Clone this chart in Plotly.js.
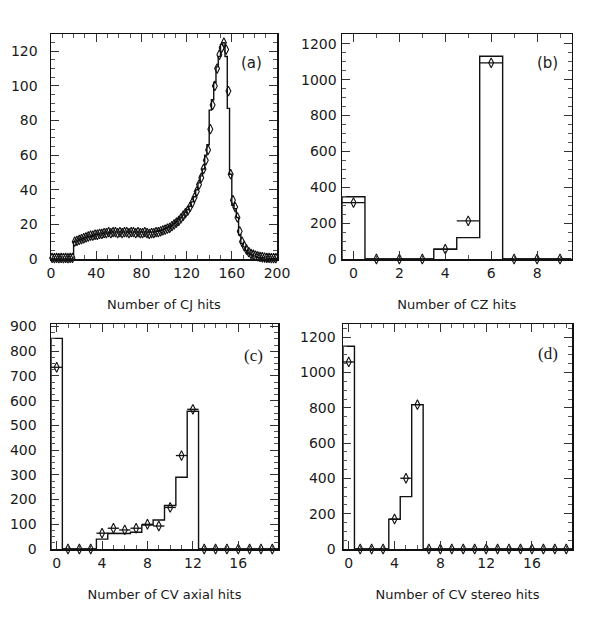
<!DOCTYPE html>
<html>
<head>
<meta charset="utf-8">
<script src="https://cdn.plot.ly/plotly-3.0.1.min.js"></script>
<style>html,body{margin:0;padding:0;background:#fff;}#chart{width:600px;height:624px;}</style>
</head>
<body>
<div id="chart"></div>
<script>
// (a) Number of CJ hits, bin width 2
const cjBins = [1,3,5,7,9,11,13,15,17,19,21,23,25,27,29,31,33,35,37,39,41,43,45,47,49,51,53,55,57,59,61,63,65,67,69,71,73,75,77,79,81,83,85,87,89,91,93,95,97,99,101,103,105,107,109,111,113,115,117,119,121,123,125,127,129,131,133,135,137,139,141,143,145,147,149,151,153,155,157,159,161,163,165,167,169,171,173,175,177,179,181,183,185,187,189,191,193,195,197,199];
const cjData = [0.6,0.5,0.6,0.5,0.6,0.5,0.6,0.5,0.6,0.6,
  10,10.5,11,11.5,12,12.5,13,13.5,13.5,14,
  14,14.5,14.5,15,15,15.5,15,15.5,15.5,15,
  15.5,15,15.5,15.5,15,15.5,15.5,15,15.5,15,
  15,15.5,15,14.5,15,15,15.5,15.5,16,16.5,
  17,17.5,18,19,20,21,22,23.5,25,26.5,
  28,30,32.5,35.5,39,43,47,52,57,63,
  75,89,100,110,118,122,125,121,97,49,
  34,30,24,16,10,7.5,5.5,4,3,2.5,
  2,1.5,1.2,1,0.8,0.7,0.6,0.5,0.5,0.5];
const cjMC = [0,0,0,0,0,0,0,0,0,0,
  10,10.5,11,11.5,12,12.5,13,13,13.5,14,
  14,14.5,14.5,15,15,15,15.5,15.5,15.5,15.5,
  15.5,15.5,15.5,15.5,15.5,15.5,15.5,15.5,15.5,15.5,
  15.5,15.5,15.5,15.5,15.5,15.5,16,16,16.5,17,
  17.5,18,18.5,19.5,20.5,21.5,23,24,25.5,27,
  28.5,30.5,33,36,40,44,48,52,60,66,
  86,92,102,111,117,124,125,117,87,49,
  31,29,24,14,9,7,5,3.5,2.5,2,
  1.5,1,1,0.8,0.6,0.5,0.4,0.3,0.3,0.3];
const cjWidth = 2;

// (b) Number of CZ hits
const czBins = [0,1,2,3,4,5,6,7,8,9];
const czData = [315,0,0,0,55,213,1094,0,0,0];
const czMC   = [347,0,0,0,54,119,1131,0,0,0];

// (c) Number of CV axial hits
const cvaBins = [0,1,2,3,4,5,6,7,8,9,10,11,12,13,14,15,16,17,18,19];
const cvaData = [735,0,0,0,64,84,77,84,100,93,168,378,565,0,0,0,0,0,0,0];
const cvaMC   = [852,0,0,0,40,64,63,68,97,117,176,290,557,0,0,0,0,0,0,0];

// (d) Number of CV stereo hits
const cvsBins = [0,1,2,3,4,5,6,7,8,9,10,11,12,13,14,15,16,17,18,19];
const cvsData = [1060,0,0,0,170,401,818,0,0,0,0,0,0,0,0,0,0,0,0,0];
const cvsMC   = [1149,0,0,0,168,297,818,0,0,0,0,0,0,0,0,0,0,0,0,0];

const xTitles = ['Number of CJ hits','Number of CZ hits','Number of CV axial hits','Number of CV stereo hits'];
const panelLabels = ['(a)','(b)','(c)','(d)'];

function steps(centers, vals, w) {
  const xs = [centers[0] - w/2], ys = [0];
  for (let i = 0; i < centers.length; i++) {
    xs.push(centers[i] - w/2, centers[i] + w/2);
    ys.push(vals[i], vals[i]);
  }
  xs.push(centers[centers.length-1] + w/2); ys.push(0);
  return {x: xs, y: ys};
}

const ink = '#111';
function histTrace(c, v, w, ax) {
  const s = steps(c, v, w);
  return {x: s.x, y: s.y, xaxis: ax[0], yaxis: ax[1], type: 'scatter', mode: 'lines',
    line: {color: ink, width: 1.4}, hoverinfo: 'skip', showlegend: false};
}
function dataTrace(c, v, ax, errw, size) {
  const t = {x: c, y: v, xaxis: ax[0], yaxis: ax[1], type: 'scatter', mode: 'markers',
    cliponaxis: false, showlegend: false,
    marker: {symbol: 'diamond-tall-open', size: size, color: ink, line: {width: 1.1, color: ink}}};
  if (errw) t.error_x = {type: 'constant', value: errw, width: 0, thickness: 1.3, color: ink};
  return t;
}

const traces = [
  histTrace(cjBins, cjMC, cjWidth, ['x','y']),
  dataTrace(cjBins, cjData, ['x','y'], 0, 7),
  histTrace(czBins, czMC, 1, ['x2','y2']),
  dataTrace(czBins, czData, ['x2','y2'], 0.5, 7),
  histTrace(cvaBins, cvaMC, 1, ['x3','y3']),
  dataTrace(cvaBins, cvaData, ['x3','y3'], 0.5, 7),
  histTrace(cvsBins, cvsMC, 1, ['x4','y4']),
  dataTrace(cvsBins, cvsData, ['x4','y4'], 0.5, 7)
];

const tfont = {family: 'DejaVu Sans, sans-serif', size: 14, color: '#1a1a1a'};
function xax(domain, range, dtick, minor, title, anchor) {
  return {domain: domain, range: range, dtick: dtick, tick0: 0, anchor: anchor,
    showline: true, mirror: 'ticks', linecolor: ink, linewidth: 1.5,
    ticks: 'inside', ticklen: 8, tickwidth: 1, tickcolor: '#333',
    minor: {dtick: minor, ticks: 'inside', ticklen: 4, tickcolor: '#555'},
    showgrid: false, zeroline: false, tickfont: tfont, ticklabelstandoff: 1,
    title: {text: title, font: {family: 'DejaVu Sans, sans-serif', size: 13, color: '#1a1a1a'}, standoff: 19}};
}
function yax(domain, range, dtick, minor, anchor, standoff) {
  return {domain: domain, range: range, dtick: dtick, tick0: 0, anchor: anchor,
    showline: true, mirror: 'ticks', linecolor: ink, linewidth: 1.5,
    ticks: 'inside', ticklen: 8, tickwidth: 1, tickcolor: '#333',
    minor: {dtick: minor, ticks: 'inside', ticklen: 4, tickcolor: '#555'},
    showgrid: false, zeroline: false, tickfont: tfont, ticklabelstandoff: standoff};
}

const topRow = [1 - 259/624, 1 - 34/624];
const botRow = [1 - 549/624, 1 - 324/624];

function label(i, xr, yr, x, y, fam, size) {
  return {text: panelLabels[i], xref: xr, yref: yr, x: x, y: y, xanchor: 'center', yanchor: 'middle',
    showarrow: false, font: {family: fam, size: size, color: '#1a1a1a'}};
}

const layout = {
  width: 600, height: 624,
  margin: {l: 0, r: 0, t: 0, b: 0},
  paper_bgcolor: '#fff', plot_bgcolor: '#fff',
  showlegend: false,
  xaxis:  xax([51/600, 277/600], [0, 200], 40, 10, xTitles[0], 'y'),
  yaxis:  yax(topRow, [0, 130], 20, 5, 'x', 9),
  xaxis2: xax([342/600, 571.5/600], [-0.5, 9.5], 2, 1, xTitles[1], 'y2'),
  yaxis2: yax(topRow, [0, 1255], 200, 50, 'x2', 1),
  xaxis3: xax([51/600, 278/600], [-0.5, 19.5], 4, 1, xTitles[2], 'y3'),
  yaxis3: yax(botRow, [0, 910], 100, 25, 'x3', 10),
  xaxis4: xax([343/600, 572/600], [-0.5, 19.5], 4, 1, xTitles[3], 'y4'),
  yaxis4: yax(botRow, [0, 1275], 200, 50, 'x4', 3),
  annotations: [
    label(0, 'x domain', 'y domain', 0.889, 0.871, 'DejaVu Sans, sans-serif', 15),
    label(1, 'x2 domain', 'y2 domain', 0.895, 0.871, 'DejaVu Sans, sans-serif', 15),
    label(2, 'x3 domain', 'y3 domain', 0.89, 0.862, 'Liberation Serif, serif', 17),
    label(3, 'x4 domain', 'y4 domain', 0.895, 0.871, 'Liberation Serif, serif', 17)
  ]
};

Plotly.newPlot('chart', traces, layout, {staticPlot: true, displayModeBar: false});
</script>
</body>
</html>
